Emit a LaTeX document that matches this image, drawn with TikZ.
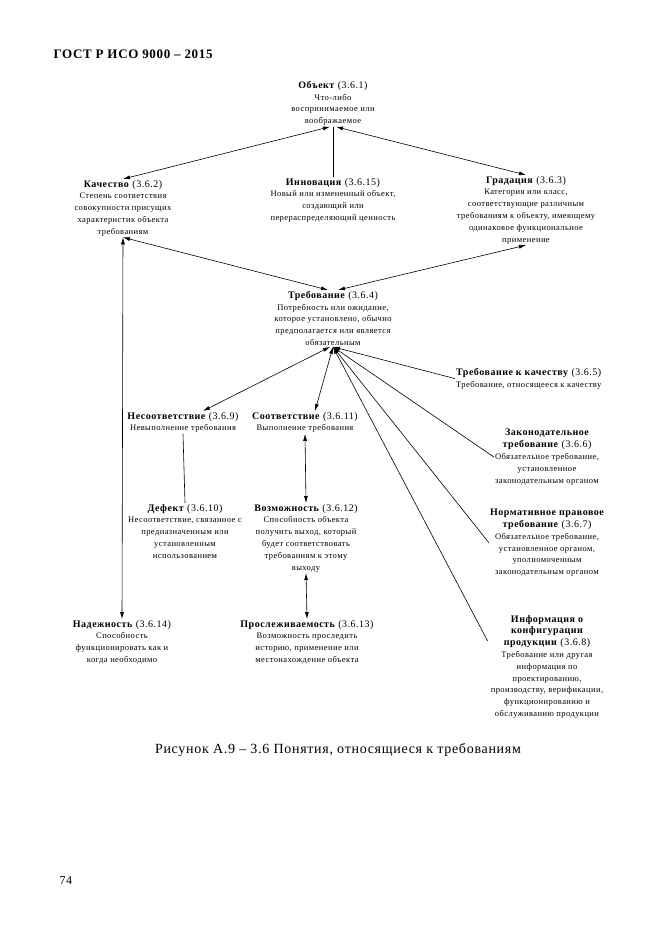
\documentclass[tikz,border=0pt]{standalone}
\usepackage{fontspec}
\setmainfont{Liberation Serif}[LetterSpace=5]
\usetikzlibrary{arrows.meta,calc}

\newcommand{\termhead}[1]{{\fontsize{10}{11.8}\selectfont\bfseries #1}}
\newcommand{\term}[2]{{\fontsize{10}{11.8}\selectfont\textbf{#1} (#2)}}

\begin{document}
\begin{tikzpicture}[x=1pt, y=-1pt,
    concept/.style={align=center, inner sep=1pt, font=\fontsize{8.5}{11.8}\selectfont},
    link/.style={line width=0.6pt},
    >={Latex[length=7pt,width=4pt]}
]
\useasboundingbox (0,0) rectangle (661,935);

\node[anchor=base west, font=\fontsize{13}{15}\selectfont\bfseries] (head) at (50,58) {ГОСТ Р ИСО 9000 – 2015};

% top level
\node[concept, anchor=north] (obj) at (333,80) {\term{Объект}{3.6.1}\\Что-либо\\воспринимаемое или\\воображаемое};
\node[concept, anchor=north] (qual) at (123,179) {\term{Качество}{3.6.2}\\Степень соответствия\\совокупности присущих\\характеристик объекта\\требованиям};
\node[concept, anchor=north] (innov) at (333,177) {\term{Инновация}{3.6.15}\\Новый или измененный объект,\\создающий или\\перераспределяющий ценность};
\node[concept, anchor=north] (grade) at (526,175) {\term{Градация}{3.6.3}\\Категория или класс,\\соответствующие различным\\требованиям к объекту, имеющему\\одинаковое функциональное\\применение};

% requirement
\node[concept, anchor=north] (req) at (333,290) {\term{Требование}{3.6.4}\\Потребность или ожидание,\\которое установлено, обычно\\предполагается или является\\обязательным};
\node[concept, anchor=north west, align=left] (reqq) at (455,367) {\term{Требование к качеству}{3.6.5}\\Требование, относящееся к качеству};
\node[concept, anchor=north] (statreq) at (547,428) {\termhead{Законодательное}\\\term{требование}{3.6.6}\\Обязательное требование,\\установленное\\законодательным органом};
\node[concept, anchor=north] (regreq) at (547,508) {\termhead{Нормативное правовое}\\\term{требование}{3.6.7}\\Обязательное требование,\\установленное органом,\\уполномоченным\\законодательным органом};
\node[concept, anchor=north] (confinfo) at (547,614) {\termhead{Информация о}\\\termhead{конфигурации}\\\term{продукции}{3.6.8}\\Требование или другая\\информация по\\проектированию,\\производству, верификации,\\функционированию и\\обслуживанию продукции};

% conformity branch
\node[concept, anchor=north] (nonconf) at (183,411) {\term{Несоответствие}{3.6.9}\\Невыполнение требования};
\node[concept, anchor=north] (conf) at (305,411) {\term{Соответствие}{3.6.11}\\Выполнение требования};
\node[concept, anchor=north] (defect) at (185,503) {\term{Дефект}{3.6.10}\\Несоответствие, связанное с\\предназначенным или\\установленным\\использованием};
\node[concept, anchor=north] (capab) at (306,503) {\term{Возможность}{3.6.12}\\Способность объекта\\получить выход, который\\будет соответствовать\\требованиям к этому\\выходу};
\node[concept, anchor=north] (reliab) at (122,619) {\term{Надежность}{3.6.14}\\Способность\\функционировать как и\\когда необходимо};
\node[concept, anchor=north] (trace) at (307,619) {\term{Прослеживаемость}{3.6.13}\\Возможность проследить\\историю, применение или\\местонахождение объекта};

% connectors
\draw[link, <->] (qual.north) -- ([xshift=-3pt]obj.south);
\draw[link] (innov.north) -- (obj.south);
\draw[link, <->] (grade.north) -- ([xshift=3pt]obj.south);
\draw[link, <->] (qual.south) -- ([xshift=-5pt]req.north);
\draw[link, <->] (grade.south) -- ([xshift=5pt]req.north);
\draw[link, <->] (qual.south) -- (reliab.north);

\draw[link, <->] ([xshift=-3pt]req.south) -- ([xshift=20pt]nonconf.north);
\draw[link, <->] (req.south) -- ([xshift=10pt]conf.north);
\draw[link, <-] (req.south) -- (reqq.west);
\draw[link, <-] (req.south) -- (statreq.west);
\draw[link, <-] (req.south) -- (regreq.west);
\draw[link, <-] (req.south) -- ($(confinfo.north west)+(-2,27)$);

\draw[link] (nonconf.south) -- (defect.north);
\draw[link, <->] (conf.south) -- (capab.north);
\draw[link, <->] (capab.south) -- (trace.north);

\node[font=\fontsize{14}{16}\selectfont] (caption) at (338,750) {Рисунок А.9 – 3.6 Понятия, относящиеся к требованиям};
\node[anchor=base west, font=\fontsize{12}{14}\selectfont] (page) at (56,884) {74};
\end{tikzpicture}
\end{document}
